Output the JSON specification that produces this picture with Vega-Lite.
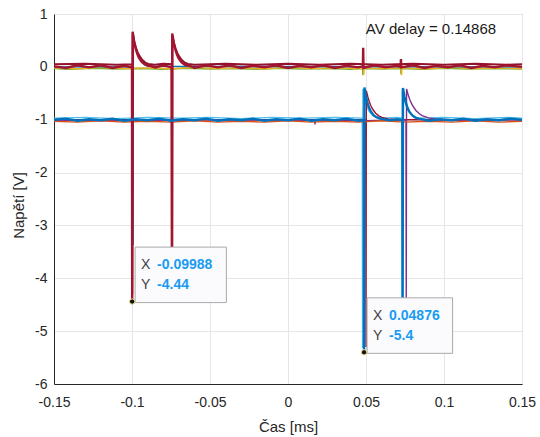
{
  "$schema": "https://vega.github.io/schema/vega-lite/v6.json",
  "width": 468,
  "height": 370,
  "autosize": {"type": "none"},
  "padding": {"left": 54, "top": 14, "right": 18, "bottom": 53},
  "background": "white",
  "config": {"view": {"stroke": "#d2d2d2", "strokeWidth": 1}, "font": "Liberation Sans"},
  "datasets": {
    "traces": [
      {"s":"T_red","x":-0.15,"y":0.01},{"s":"T_red","x":-0.1425,"y":-0.02},{"s":"T_red","x":-0.135,"y":0.03},{"s":"T_red","x":-0.1275,"y":-0.01},{"s":"T_red","x":-0.12,"y":0.03},{"s":"T_red","x":-0.1125,"y":-0.02},{"s":"T_red","x":-0.105,"y":0.02},{"s":"T_red","x":-0.1,"y":-0.01},
      {"s":"T_red","x":-0.09988,"y":-4.44},{"s":"T_red","x":-0.0996,"y":0.665},{"s":"T_red","x":-0.0986,"y":0.477},{"s":"T_red","x":-0.0976,"y":0.341},{"s":"T_red","x":-0.0966,"y":0.245},{"s":"T_red","x":-0.0956,"y":0.176},{"s":"T_red","x":-0.0936,"y":0.09},{"s":"T_red","x":-0.0916,"y":0.046},{"s":"T_red","x":-0.0896,"y":0.024},{"s":"T_red","x":-0.0876,"y":0.012},{"s":"T_red","x":-0.085,"y":-0.01},{"s":"T_red","x":-0.08,"y":0.03},{"s":"T_red","x":-0.0746,"y":-0.01},
      {"s":"T_red","x":-0.0744,"y":-4.4},{"s":"T_red","x":-0.0742,"y":0.63},{"s":"T_red","x":-0.0732,"y":0.452},{"s":"T_red","x":-0.0722,"y":0.323},{"s":"T_red","x":-0.0712,"y":0.232},{"s":"T_red","x":-0.0702,"y":0.166},{"s":"T_red","x":-0.0682,"y":0.085},{"s":"T_red","x":-0.0662,"y":0.043},{"s":"T_red","x":-0.0642,"y":0.023},{"s":"T_red","x":-0.0622,"y":0.011},
      {"s":"T_red","x":-0.06,"y":-0.02},{"s":"T_red","x":-0.0525,"y":0.03},{"s":"T_red","x":-0.045,"y":-0.01},{"s":"T_red","x":-0.0375,"y":0.03},{"s":"T_red","x":-0.03,"y":-0.02},{"s":"T_red","x":-0.0225,"y":0.02},{"s":"T_red","x":-0.015,"y":-0.01},{"s":"T_red","x":-0.0075,"y":0.03},{"s":"T_red","x":0,"y":-0.02},{"s":"T_red","x":0.0075,"y":0.02},{"s":"T_red","x":0.015,"y":-0.01},{"s":"T_red","x":0.0225,"y":0.03},{"s":"T_red","x":0.03,"y":-0.02},{"s":"T_red","x":0.0375,"y":0.02},{"s":"T_red","x":0.045,"y":-0.01},
      {"s":"T_red","x":0.048,"y":0.01},{"s":"T_red","x":0.0482,"y":0.36},{"s":"T_red","x":0.0484,"y":-0.02},{"s":"T_red","x":0.055,"y":0.03},{"s":"T_red","x":0.0625,"y":-0.01},{"s":"T_red","x":0.07,"y":0.02},{"s":"T_red","x":0.0722,"y":0.0},{"s":"T_red","x":0.0724,"y":0.15},{"s":"T_red","x":0.0726,"y":-0.01},{"s":"T_red","x":0.08,"y":0.03},{"s":"T_red","x":0.0875,"y":-0.02},{"s":"T_red","x":0.095,"y":0.02},{"s":"T_red","x":0.1025,"y":-0.01},{"s":"T_red","x":0.11,"y":0.03},{"s":"T_red","x":0.1175,"y":-0.02},{"s":"T_red","x":0.125,"y":0.02},{"s":"T_red","x":0.1325,"y":-0.01},{"s":"T_red","x":0.14,"y":0.03},{"s":"T_red","x":0.15,"y":0.0},

      {"s":"T_red2","x":-0.15,"y":0.05},{"s":"T_red2","x":-0.13,"y":0.06},{"s":"T_red2","x":-0.11,"y":0.04},{"s":"T_red2","x":-0.1,"y":0.05},{"s":"T_red2","x":-0.09985,"y":-4.3},{"s":"T_red2","x":-0.0995,"y":0.6},{"s":"T_red2","x":-0.0985,"y":0.467},{"s":"T_red2","x":-0.0975,"y":0.364},{"s":"T_red2","x":-0.0965,"y":0.283},{"s":"T_red2","x":-0.0955,"y":0.221},{"s":"T_red2","x":-0.0935,"y":0.134},{"s":"T_red2","x":-0.0915,"y":0.081},{"s":"T_red2","x":-0.0895,"y":0.055},{"s":"T_red2","x":-0.0855,"y":0.04},{"s":"T_red2","x":-0.08,"y":0.06},{"s":"T_red2","x":-0.0745,"y":0.05},
      {"s":"T_red2","x":-0.0743,"y":-4.2},{"s":"T_red2","x":-0.0741,"y":0.58},{"s":"T_red2","x":-0.0731,"y":0.45},{"s":"T_red2","x":-0.0721,"y":0.352},{"s":"T_red2","x":-0.0711,"y":0.274},{"s":"T_red2","x":-0.0701,"y":0.213},{"s":"T_red2","x":-0.0681,"y":0.13},{"s":"T_red2","x":-0.0661,"y":0.078},{"s":"T_red2","x":-0.0641,"y":0.055},{"s":"T_red2","x":-0.06,"y":0.04},{"s":"T_red2","x":-0.04,"y":0.06},{"s":"T_red2","x":-0.02,"y":0.04},{"s":"T_red2","x":0,"y":0.06},{"s":"T_red2","x":0.02,"y":0.04},{"s":"T_red2","x":0.04,"y":0.06},{"s":"T_red2","x":0.06,"y":0.04},{"s":"T_red2","x":0.08,"y":0.06},{"s":"T_red2","x":0.1,"y":0.04},{"s":"T_red2","x":0.12,"y":0.06},{"s":"T_red2","x":0.14,"y":0.04},{"s":"T_red2","x":0.15,"y":0.05},

      {"s":"T_green","x":-0.15,"y":-0.03},{"s":"T_green","x":-0.14,"y":-0.045},{"s":"T_green","x":-0.125,"y":-0.025},{"s":"T_green","x":-0.11,"y":-0.04},{"s":"T_green","x":-0.095,"y":-0.03},{"s":"T_green","x":-0.08,"y":-0.045},{"s":"T_green","x":-0.065,"y":-0.025},{"s":"T_green","x":-0.05,"y":-0.04},{"s":"T_green","x":-0.035,"y":-0.03},{"s":"T_green","x":-0.02,"y":-0.045},{"s":"T_green","x":-0.005,"y":-0.025},{"s":"T_green","x":0.01,"y":-0.04},{"s":"T_green","x":0.025,"y":-0.03},{"s":"T_green","x":0.04,"y":-0.045},{"s":"T_green","x":0.0478,"y":-0.03},{"s":"T_green","x":0.048,"y":-0.16},{"s":"T_green","x":0.0482,"y":-0.03},{"s":"T_green","x":0.06,"y":-0.04},{"s":"T_green","x":0.0722,"y":-0.03},{"s":"T_green","x":0.0724,"y":-0.14},{"s":"T_green","x":0.0726,"y":-0.03},{"s":"T_green","x":0.085,"y":-0.045},{"s":"T_green","x":0.1,"y":-0.025},{"s":"T_green","x":0.115,"y":-0.04},{"s":"T_green","x":0.13,"y":-0.03},{"s":"T_green","x":0.15,"y":-0.04},

      {"s":"T_yellow","x":-0.15,"y":-0.02},{"s":"T_yellow","x":-0.135,"y":-0.035},{"s":"T_yellow","x":-0.12,"y":-0.01},{"s":"T_yellow","x":-0.105,"y":-0.03},{"s":"T_yellow","x":-0.09,"y":-0.02},{"s":"T_yellow","x":-0.075,"y":-0.035},{"s":"T_yellow","x":-0.06,"y":-0.01},{"s":"T_yellow","x":-0.045,"y":-0.03},{"s":"T_yellow","x":-0.03,"y":-0.02},{"s":"T_yellow","x":-0.015,"y":-0.035},{"s":"T_yellow","x":0,"y":-0.01},{"s":"T_yellow","x":0.015,"y":-0.03},{"s":"T_yellow","x":0.03,"y":-0.02},{"s":"T_yellow","x":0.045,"y":-0.03},{"s":"T_yellow","x":0.0484,"y":-0.02},{"s":"T_yellow","x":0.0486,"y":-0.15},{"s":"T_yellow","x":0.0488,"y":-0.02},{"s":"T_yellow","x":0.06,"y":-0.03},{"s":"T_yellow","x":0.0726,"y":-0.02},{"s":"T_yellow","x":0.0728,"y":-0.16},{"s":"T_yellow","x":0.073,"y":-0.02},{"s":"T_yellow","x":0.09,"y":-0.035},{"s":"T_yellow","x":0.105,"y":-0.01},{"s":"T_yellow","x":0.12,"y":-0.03},{"s":"T_yellow","x":0.135,"y":-0.02},{"s":"T_yellow","x":0.15,"y":-0.03},

      {"s":"T_blue","x":-0.15,"y":0},{"s":"T_blue","x":-0.0995,"y":0},{"s":"T_blue","x":-0.0993,"y":-3.37},{"s":"T_blue","x":-0.0991,"y":0.6},{"s":"T_blue","x":-0.0981,"y":0.42},{"s":"T_blue","x":-0.0971,"y":0.3},{"s":"T_blue","x":-0.0961,"y":0.21},{"s":"T_blue","x":-0.0941,"y":0.1},{"s":"T_blue","x":-0.0921,"y":0.04},{"s":"T_blue","x":-0.09,"y":0.01},{"s":"T_blue","x":0.15,"y":0},

      {"s":"B_blue","x":-0.15,"y":-1.0},{"s":"B_blue","x":-0.1425,"y":-0.98},{"s":"B_blue","x":-0.135,"y":-1.02},{"s":"B_blue","x":-0.1275,"y":-0.99},{"s":"B_blue","x":-0.12,"y":-1.01},{"s":"B_blue","x":-0.1125,"y":-0.98},{"s":"B_blue","x":-0.105,"y":-1.02},{"s":"B_blue","x":-0.0975,"y":-0.99},{"s":"B_blue","x":-0.09,"y":-1.01},{"s":"B_blue","x":-0.0825,"y":-0.98},{"s":"B_blue","x":-0.075,"y":-1.02},{"s":"B_blue","x":-0.0675,"y":-0.99},{"s":"B_blue","x":-0.06,"y":-1.01},{"s":"B_blue","x":-0.0525,"y":-0.98},{"s":"B_blue","x":-0.045,"y":-1.02},{"s":"B_blue","x":-0.0375,"y":-0.99},{"s":"B_blue","x":-0.03,"y":-1.01},{"s":"B_blue","x":-0.0225,"y":-0.98},{"s":"B_blue","x":-0.015,"y":-1.02},{"s":"B_blue","x":-0.0075,"y":-0.99},{"s":"B_blue","x":0,"y":-1.01},{"s":"B_blue","x":0.0075,"y":-0.98},{"s":"B_blue","x":0.015,"y":-1.02},{"s":"B_blue","x":0.0225,"y":-0.99},{"s":"B_blue","x":0.03,"y":-1.01},{"s":"B_blue","x":0.0375,"y":-0.98},{"s":"B_blue","x":0.045,"y":-1.02},{"s":"B_blue","x":0.0486,"y":-1.0},
      {"s":"B_blue","x":0.04876,"y":-5.4},{"s":"B_blue","x":0.049,"y":-0.39},{"s":"B_blue","x":0.05,"y":-0.563},{"s":"B_blue","x":0.051,"y":-0.687},{"s":"B_blue","x":0.052,"y":-0.776},{"s":"B_blue","x":0.053,"y":-0.839},{"s":"B_blue","x":0.055,"y":-0.918},{"s":"B_blue","x":0.057,"y":-0.958},{"s":"B_blue","x":0.059,"y":-0.978},{"s":"B_blue","x":0.061,"y":-0.989},{"s":"B_blue","x":0.065,"y":-1.01},{"s":"B_blue","x":0.07,"y":-0.99},{"s":"B_blue","x":0.0733,"y":-1.0},
      {"s":"B_blue","x":0.0735,"y":-4.45},{"s":"B_blue","x":0.0737,"y":-0.4},{"s":"B_blue","x":0.0747,"y":-0.57},{"s":"B_blue","x":0.0757,"y":-0.692},{"s":"B_blue","x":0.0767,"y":-0.78},{"s":"B_blue","x":0.0777,"y":-0.842},{"s":"B_blue","x":0.0797,"y":-0.919},{"s":"B_blue","x":0.0817,"y":-0.959},{"s":"B_blue","x":0.0837,"y":-0.979},{"s":"B_blue","x":0.0857,"y":-0.99},{"s":"B_blue","x":0.09,"y":-1.02},{"s":"B_blue","x":0.0975,"y":-0.99},{"s":"B_blue","x":0.105,"y":-1.01},{"s":"B_blue","x":0.1125,"y":-0.98},{"s":"B_blue","x":0.12,"y":-1.02},{"s":"B_blue","x":0.1275,"y":-0.99},{"s":"B_blue","x":0.135,"y":-1.01},{"s":"B_blue","x":0.1425,"y":-0.98},{"s":"B_blue","x":0.15,"y":-1.0},

      {"s":"B_cyan","x":-0.15,"y":-0.97},{"s":"B_cyan","x":-0.13,"y":-0.955},{"s":"B_cyan","x":-0.11,"y":-0.98},{"s":"B_cyan","x":-0.09,"y":-0.955},{"s":"B_cyan","x":-0.07,"y":-0.97},{"s":"B_cyan","x":-0.05,"y":-0.955},{"s":"B_cyan","x":-0.03,"y":-0.98},{"s":"B_cyan","x":-0.01,"y":-0.955},{"s":"B_cyan","x":0.01,"y":-0.97},{"s":"B_cyan","x":0.03,"y":-0.955},{"s":"B_cyan","x":0.0476,"y":-0.97},{"s":"B_cyan","x":0.0478,"y":-5.32},{"s":"B_cyan","x":0.048,"y":-0.42},{"s":"B_cyan","x":0.049,"y":-0.58},{"s":"B_cyan","x":0.05,"y":-0.7},{"s":"B_cyan","x":0.051,"y":-0.78},{"s":"B_cyan","x":0.052,"y":-0.84},{"s":"B_cyan","x":0.054,"y":-0.91},{"s":"B_cyan","x":0.056,"y":-0.95},{"s":"B_cyan","x":0.06,"y":-0.97},{"s":"B_cyan","x":0.07,"y":-0.955},{"s":"B_cyan","x":0.0729,"y":-0.97},{"s":"B_cyan","x":0.0731,"y":-4.45},{"s":"B_cyan","x":0.0733,"y":-0.42},{"s":"B_cyan","x":0.0743,"y":-0.58},{"s":"B_cyan","x":0.0753,"y":-0.7},{"s":"B_cyan","x":0.0763,"y":-0.78},{"s":"B_cyan","x":0.0773,"y":-0.84},{"s":"B_cyan","x":0.0793,"y":-0.91},{"s":"B_cyan","x":0.0813,"y":-0.95},{"s":"B_cyan","x":0.085,"y":-0.97},{"s":"B_cyan","x":0.1,"y":-0.955},{"s":"B_cyan","x":0.12,"y":-0.98},{"s":"B_cyan","x":0.14,"y":-0.955},{"s":"B_cyan","x":0.15,"y":-0.97},

      {"s":"B_red","x":-0.15,"y":-1.0},{"s":"B_red","x":0.0498,"y":-1.0},{"s":"B_red","x":0.05,"y":-5.3},{"s":"B_red","x":0.0502,"y":-0.45},{"s":"B_red","x":0.0512,"y":-0.571},{"s":"B_red","x":0.0522,"y":-0.666},{"s":"B_red","x":0.0532,"y":-0.74},{"s":"B_red","x":0.0542,"y":-0.798},{"s":"B_red","x":0.0562,"y":-0.877},{"s":"B_red","x":0.0582,"y":-0.926},{"s":"B_red","x":0.0602,"y":-0.955},{"s":"B_red","x":0.0642,"y":-0.984},{"s":"B_red","x":0.07,"y":-1.0},{"s":"B_red","x":0.15,"y":-1.0},

      {"s":"B_purple","x":-0.15,"y":-1.01},{"s":"B_purple","x":-0.1,"y":-1.02},{"s":"B_purple","x":-0.05,"y":-1.0},{"s":"B_purple","x":0.0171,"y":-1.01},{"s":"B_purple","x":0.0173,"y":-1.09},{"s":"B_purple","x":0.0175,"y":-1.01},{"s":"B_purple","x":0.05,"y":-1.02},{"s":"B_purple","x":0.0756,"y":-1.0},{"s":"B_purple","x":0.0758,"y":-4.4},{"s":"B_purple","x":0.076,"y":-0.42},{"s":"B_purple","x":0.077,"y":-0.525},{"s":"B_purple","x":0.078,"y":-0.611},{"s":"B_purple","x":0.079,"y":-0.682},{"s":"B_purple","x":0.08,"y":-0.74},{"s":"B_purple","x":0.082,"y":-0.825},{"s":"B_purple","x":0.084,"y":-0.883},{"s":"B_purple","x":0.086,"y":-0.922},{"s":"B_purple","x":0.09,"y":-0.965},{"s":"B_purple","x":0.1,"y":-1.01},{"s":"B_purple","x":0.15,"y":-1.0},

      {"s":"B_orange","x":-0.15,"y":-1.03},{"s":"B_orange","x":-0.135,"y":-1.045},{"s":"B_orange","x":-0.12,"y":-1.02},{"s":"B_orange","x":-0.105,"y":-1.045},{"s":"B_orange","x":-0.09,"y":-1.03},{"s":"B_orange","x":-0.075,"y":-1.045},{"s":"B_orange","x":-0.06,"y":-1.02},{"s":"B_orange","x":-0.045,"y":-1.045},{"s":"B_orange","x":-0.03,"y":-1.03},{"s":"B_orange","x":-0.015,"y":-1.045},{"s":"B_orange","x":0,"y":-1.02},{"s":"B_orange","x":0.015,"y":-1.045},{"s":"B_orange","x":0.03,"y":-1.03},{"s":"B_orange","x":0.045,"y":-1.045},{"s":"B_orange","x":0.06,"y":-1.02},{"s":"B_orange","x":0.075,"y":-1.045},{"s":"B_orange","x":0.09,"y":-1.03},{"s":"B_orange","x":0.105,"y":-1.045},{"s":"B_orange","x":0.12,"y":-1.02},{"s":"B_orange","x":0.135,"y":-1.045},{"s":"B_orange","x":0.15,"y":-1.03}
    ],
    "tips": [
      {"x":-0.09988,"y":-4.44,"x0":-0.098,"x1":-0.0395,"y0":-3.41,"y1":-4.46,"xv":"-0.09988","yv":"-4.44"},
      {"x":0.04876,"y":-5.4,"x0":0.0507,"x1":0.1055,"y0":-4.37,"y1":-5.42,"xv":"0.04876","yv":"-5.4"}
    ],
    "notes": [{"x":0.0499,"y":0.62,"t":"AV delay = 0.14868"}]
  },
  "encoding": {
    "x": {
      "field": "x", "type": "quantitative", "title": "Čas [ms]",
      "scale": {"domain": [-0.15, 0.15], "nice": false, "zero": false},
      "axis": {
        "values": [-0.15, -0.1, -0.05, 0, 0.05, 0.1, 0.15],
        "labelExpr": "datum.value < 0 ? '-' + format(-datum.value, '~g') : format(datum.value, '~g')",
        "grid": true, "gridColor": "#e6e6e6", "ticks": false,
        "domainColor": "#262626", "labelFont": "Liberation Sans", "labelFontSize": 14, "labelColor": "#262626",
        "labelPadding": 11, "labelFlush": false, "labelOverlap": false,
        "titleFont": "Liberation Sans", "titleFontSize": 15, "titleFontWeight": "normal", "titleColor": "#262626",
        "titleY": 47, "titleBaseline": "alphabetic"
      }
    },
    "y": {
      "field": "y", "type": "quantitative", "title": "Napětí [V]",
      "scale": {"domain": [-6, 1], "nice": false, "zero": false},
      "axis": {
        "values": [-6, -5, -4, -3, -2, -1, 0, 1],
        "labelExpr": "datum.value < 0 ? '-' + format(-datum.value, '~g') : format(datum.value, '~g')",
        "grid": true, "gridColor": "#e6e6e6", "ticks": false,
        "domainColor": "#262626", "labelFont": "Liberation Sans", "labelFontSize": 14, "labelColor": "#262626",
        "labelPadding": 7, "labelOverlap": false,
        "titleFont": "Liberation Sans", "titleFontSize": 15, "titleFontWeight": "normal", "titleColor": "#262626",
        "titleX": -36, "titleY": 191, "titleBaseline": "middle", "titleAlign": "center"
      }
    }
  },
  "layer": [
    {
      "data": {"name": "traces"},
      "transform": [{"filter": {"field": "s", "oneOf": ["T_green", "T_yellow", "B_orange", "B_purple", "B_red", "B_cyan", "T_blue"]}}],
      "mark": {"type": "line", "strokeWidth": 1.4, "clip": true},
      "encoding": {
        "color": {"field": "s", "type": "nominal", "legend": null,
          "scale": {"domain": ["T_red", "T_red2", "T_green", "T_yellow", "T_blue", "B_blue", "B_cyan", "B_red", "B_purple", "B_orange"],
                    "range": ["#A2142F", "#93122b", "#77AC30", "#EDB120", "#0072BD", "#0072BD", "#4DBEEE", "#A2142F", "#7E2F8E", "#D95319"]}}
      }
    },
    {
      "data": {"name": "traces"},
      "transform": [{"filter": {"field": "s", "oneOf": ["T_red2"]}}],
      "mark": {"type": "line", "strokeWidth": 2, "clip": true},
      "encoding": {"color": {"field": "s", "type": "nominal", "legend": null}}
    },
    {
      "data": {"name": "traces"},
      "transform": [{"filter": {"field": "s", "oneOf": ["T_red", "B_blue"]}}],
      "mark": {"type": "line", "strokeWidth": 2.4, "clip": true},
      "encoding": {"color": {"field": "s", "type": "nominal", "legend": null}}
    },
    {
      "data": {"name": "tips"},
      "mark": {"type": "rect", "fill": "#fbfbfe", "stroke": "#a9a9a9", "strokeWidth": 1},
      "encoding": {
        "x": {"field": "x0", "type": "quantitative", "title": "Čas [ms]"},
        "x2": {"field": "x1"},
        "y": {"field": "y0", "type": "quantitative", "title": "Napětí [V]"},
        "y2": {"field": "y1"}
      }
    },
    {
      "data": {"name": "tips"},
      "mark": {"type": "text", "text": "X", "align": "left", "baseline": "alphabetic", "dx": 6, "dy": 22, "fontSize": 14, "font": "Liberation Sans", "color": "#404040"},
      "encoding": {
        "x": {"field": "x0", "type": "quantitative", "title": "Čas [ms]"},
        "y": {"field": "y0", "type": "quantitative", "title": "Napětí [V]"}
      }
    },
    {
      "data": {"name": "tips"},
      "mark": {"type": "text", "text": "Y", "align": "left", "baseline": "alphabetic", "dx": 6, "dy": 42, "fontSize": 14, "font": "Liberation Sans", "color": "#404040"},
      "encoding": {
        "x": {"field": "x0", "type": "quantitative", "title": "Čas [ms]"},
        "y": {"field": "y0", "type": "quantitative", "title": "Napětí [V]"}
      }
    },
    {
      "data": {"name": "tips"},
      "mark": {"type": "text", "align": "left", "baseline": "alphabetic", "dx": 22, "dy": 22, "fontSize": 14, "fontWeight": "bold", "font": "Liberation Sans", "color": "#1a9bf2"},
      "encoding": {
        "x": {"field": "x0", "type": "quantitative", "title": "Čas [ms]"},
        "y": {"field": "y0", "type": "quantitative", "title": "Napětí [V]"},
        "text": {"field": "xv"}
      }
    },
    {
      "data": {"name": "tips"},
      "mark": {"type": "text", "align": "left", "baseline": "alphabetic", "dx": 22, "dy": 42, "fontSize": 14, "fontWeight": "bold", "font": "Liberation Sans", "color": "#1a9bf2"},
      "encoding": {
        "x": {"field": "x0", "type": "quantitative", "title": "Čas [ms]"},
        "y": {"field": "y0", "type": "quantitative", "title": "Napětí [V]"},
        "text": {"field": "yv"}
      }
    },
    {
      "data": {"name": "tips"},
      "mark": {"type": "point", "filled": true, "fill": "#111111", "stroke": "#e8dd8a", "strokeWidth": 1, "size": 28, "opacity": 1},
      "encoding": {}
    },
    {
      "data": {"name": "notes"},
      "mark": {"type": "text", "align": "left", "baseline": "alphabetic", "fontSize": 15, "font": "Liberation Sans", "color": "#1a1a1a"},
      "encoding": {"text": {"field": "t"}}
    }
  ]
}
